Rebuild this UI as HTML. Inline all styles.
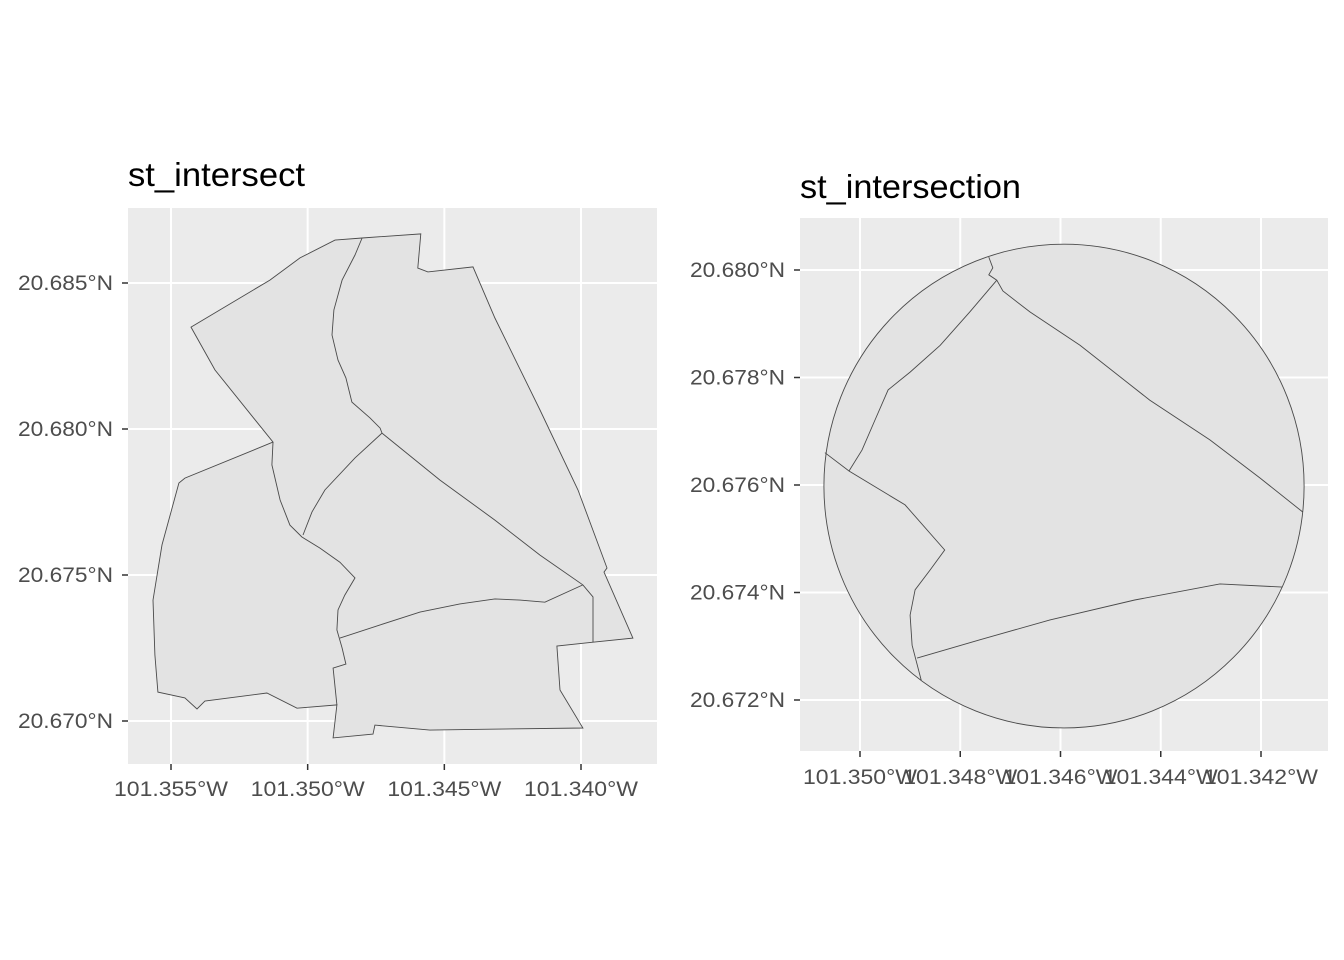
<!DOCTYPE html>
<html><head><meta charset="utf-8"><style>
html,body{margin:0;padding:0;background:#fff}
svg{display:block}
text{font-family:"Liberation Sans",Arial,sans-serif}
</style></head><body>
<svg id="chart" width="1344" height="960" viewBox="0 0 1344 960">
<rect width="1344" height="960" fill="#fff"/>
<g id="p1"></g>
<g id="p2"></g>
</svg>
<script>
// ---- Panel 1 data (lon in degrees W, lat in degrees N) ----
const p1XTicks = [101.355, 101.350, 101.345, 101.340];
const p1YTicks = [20.685, 20.680, 20.675, 20.670];
const p1Outer = [[101.35427,20.68349],[101.35138,20.68510],[101.35028,20.68586],[101.34900,20.68647],[101.34801,20.68654],[101.34586,20.68668],[101.34597,20.68551],[101.34560,20.68538],[101.34395,20.68555],[101.34315,20.68380],[101.34150,20.68065],[101.34011,20.67791],[101.33905,20.67524],[101.33916,20.67510],[101.33810,20.67284],[101.33956,20.67270],[101.34088,20.67257],[101.34077,20.67106],[101.33993,20.66976],[101.34333,20.66972],[101.34553,20.66969],[101.34754,20.66986],[101.34761,20.66955],[101.34907,20.66942],[101.34893,20.67055],[101.35039,20.67044],[101.35149,20.67096],[101.35376,20.67068],[101.35405,20.67041],[101.35449,20.67079],[101.35548,20.67099],[101.35559,20.67226],[101.35566,20.67414],[101.35533,20.67603],[101.35471,20.67815],[101.35449,20.67832],[101.35127,20.67955],[101.35339,20.68202]];
const p1LineA = [[101.34801,20.68654],[101.34827,20.68596],[101.34874,20.68510],[101.34904,20.68408],[101.34911,20.68322],[101.34889,20.68236],[101.34860,20.68175],[101.34838,20.68092],[101.34772,20.68038],[101.34735,20.68003],[101.34728,20.67986]];
const p1LineB = [[101.34728,20.67986],[101.34827,20.67901],[101.34937,20.67791],[101.34984,20.67716],[101.35017,20.67637]];
const p1LineD = [[101.34728,20.67986],[101.34516,20.67825],[101.34315,20.67688],[101.34150,20.67568],[101.33993,20.67466],[101.33956,20.67425],[101.33956,20.67270]];
const p1LineE = [[101.35127,20.67955],[101.35131,20.67877],[101.35101,20.67757],[101.35065,20.67671],[101.35021,20.67630],[101.34955,20.67592],[101.34882,20.67544],[101.34827,20.67490],[101.34864,20.67431],[101.34889,20.67380],[101.34893,20.67312],[101.34874,20.67250],[101.34860,20.67195],[101.34907,20.67181],[101.34893,20.67055]];
const p1LineC = [[101.34882,20.67284],[101.34735,20.67329],[101.34589,20.67373],[101.34443,20.67401],[101.34315,20.67418],[101.34223,20.67414],[101.34132,20.67407],[101.33993,20.67466]];

// ---- Panel 2 data ----
const p2XTicks = [101.350, 101.348, 101.346, 101.344, 101.342];
const p2YTicks = [20.680, 20.678, 20.676, 20.674, 20.672];
const p2Circle = {lon:101.34593, lat:20.67598, rLon:0.00479, rLat:0.0045};
const p2Line1 = [[101.34743,20.68024],[101.34735,20.68004],[101.34743,20.67991],[101.34727,20.67981],[101.34715,20.67961],[101.34661,20.67922],[101.34561,20.67860],[101.34422,20.67758],[101.34302,20.67684],[101.34202,20.67613],[101.34117,20.67550]];
const p2Line2 = [[101.34727,20.67981],[101.34781,20.67922],[101.34840,20.67860],[101.34900,20.67810],[101.34944,20.67777],[101.34970,20.67721],[101.34996,20.67665],[101.35022,20.67626]];
const p2Line3 = [[101.35070,20.67660],[101.35022,20.67626],[101.34910,20.67563],[101.34831,20.67479],[101.34860,20.67442],[101.34890,20.67405],[101.34900,20.67358],[101.34896,20.67302],[101.34878,20.67237]];
const p2Line4 = [[101.34886,20.67278],[101.34761,20.67312],[101.34621,20.67349],[101.34452,20.67386],[101.34282,20.67416],[101.34157,20.67410]];

const NS='http://www.w3.org/2000/svg';
function mk(tag, attrs, parent){const e=document.createElementNS(NS,tag);for(const k in attrs)e.setAttribute(k,attrs[k]);parent.appendChild(e);return e;}
function lin(d0,d1,r0,r1){return v=>r0+(v-d0)/(d1-d0)*(r1-r0);}
function pts(arr,sx,sy){return arr.map(p=>sx(p[0]).toFixed(1)+','+sy(p[1]).toFixed(1)).join(' ');}

function panel(g, cfg){
  const {x0,y0,x1,y1,sx,sy,xt,yt,xdec,ydec,title,ty,xlabY,titleW} = cfg;
  const bg=mk('rect',{x:x0,y:y0,width:x1-x0,height:y1-y0,fill:'#ebebeb'},g);
  
  
  xt.forEach(v=>{
    const x=sx(v);
    const l=mk('line',{x1:x,x2:x,y1:y0,y2:y1,stroke:'#fff','stroke-width':2},g);
    
    
    const t=mk('line',{x1:x,x2:x,y1:y1,y2:y1+6,stroke:'#333','stroke-width':1.5},g);
    
    
    const tx=mk('text',{x:x,y:xlabY,'text-anchor':'middle','font-size':21,fill:'#4d4d4d',textLength:114,lengthAdjust:'spacingAndGlyphs'},g);
    tx.textContent=v.toFixed(xdec)+'°W';
    
    
  });
  yt.forEach(v=>{
    const y=sy(v);
    const l=mk('line',{x1:x0,x2:x1,y1:y,y2:y,stroke:'#fff','stroke-width':2},g);
    
    
    const t=mk('line',{x1:x0-6,x2:x0,y1:y,y2:y,stroke:'#333','stroke-width':1.5},g);
    
    
    const tx=mk('text',{x:x0-110,y:y+7,'font-size':21,fill:'#4d4d4d',textLength:95,lengthAdjust:'spacingAndGlyphs'},g);
    tx.textContent=v.toFixed(ydec)+'°N';
    
    
  });
  const tt=mk('text',{x:x0,y:ty,'font-size':33,fill:'#000',textLength:titleW,lengthAdjust:'spacingAndGlyphs'},g);
  tt.textContent=title;
  
  
}
const polyStyle={fill:'#e3e3e3',stroke:'#4a4a4a','stroke-width':0.9};
const lineStyle={fill:'none',stroke:'#4a4a4a','stroke-width':0.9};

// Panel 1
{
  const g=document.getElementById('p1');
  const sx=lin(101.355,101.340,171,581);
  const sy=lin(20.685,20.670,283,721);
  panel(g,{x0:128,y0:208,x1:657,y1:764,sx,sy,xt:p1XTicks,yt:p1YTicks,xdec:3,ydec:3,title:'st_intersect',ty:186,xlabY:796,titleW:177});
  const poly=mk('polygon',Object.assign({points:pts(p1Outer,sx,sy)},polyStyle),g);
  
  
  [p1LineA,p1LineB,p1LineD,p1LineE,p1LineC].forEach(L=>{
    const pl=mk('polyline',Object.assign({points:pts(L,sx,sy)},lineStyle),g);
    
    
  });
}
// Panel 2
{
  const g=document.getElementById('p2');
  const sx=lin(101.350,101.342,860,1261);
  const sy=lin(20.680,20.672,270,700);
  panel(g,{x0:800,y0:218,x1:1328,y1:751,sx,sy,xt:p2XTicks,yt:p2YTicks,xdec:3,ydec:3,title:'st_intersection',ty:198,xlabY:784,titleW:221});
  const cx=sx(p2Circle.lon), cy=sy(p2Circle.lat);
  const rx=Math.abs(sx(p2Circle.lon-p2Circle.rLon)-cx), ry=Math.abs(sy(p2Circle.lat+p2Circle.rLat)-cy);
  const el=mk('ellipse',Object.assign({cx:cx,cy:cy,rx:rx,ry:ry},polyStyle),g);
  
  
  [p2Line1,p2Line2,p2Line3,p2Line4].forEach(L=>{
    const pl=mk('polyline',Object.assign({points:pts(L,sx,sy)},lineStyle),g);
    
    
  });
}
</script>
</body></html>
